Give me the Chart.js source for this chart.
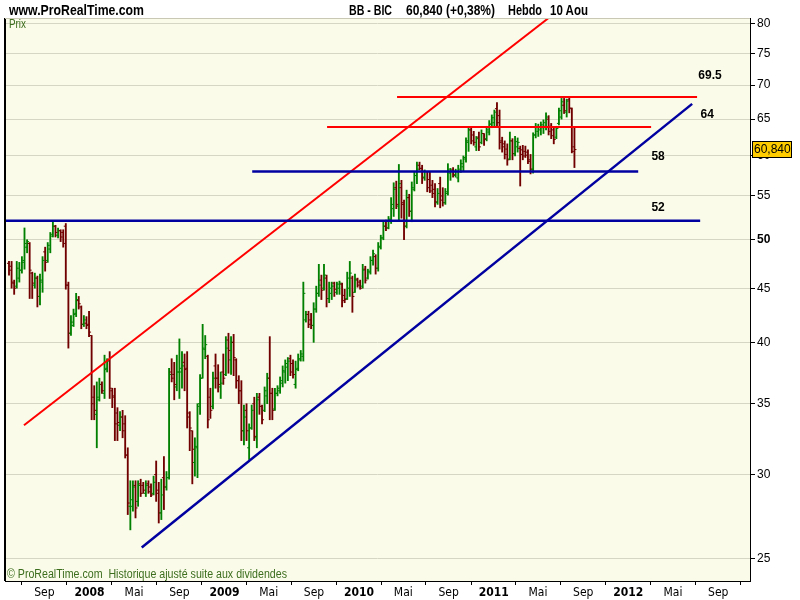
<!DOCTYPE html>
<html>
<head>
<meta charset="utf-8">
<script src="https://cdn.jsdelivr.net/npm/chart.js@4.4.0/dist/chart.umd.min.js"></script>
<style>
  html, body { margin: 0; padding: 0; background: #fff; }
  #wrap { position: relative; width: 800px; height: 600px; }
  #chart { position: absolute; left: 0; top: 0; }
  .hdr { position: absolute; top: 1px; font: bold 15px "Liberation Sans", Arial, sans-serif; color: #000; white-space: pre; transform-origin: 0 0; }
</style>
</head>
<body>
<div id="wrap">
  <canvas id="chart" width="800" height="600"></canvas>
  <div class="hdr" style="left:9px" data-w="135">www.ProRealTime.com</div>
  <div class="hdr" style="left:349px" data-w="43">BB - BIC</div>
  <div class="hdr" style="left:406px" data-w="89">60,840 (+0,38%)</div>
  <div class="hdr" style="left:508px" data-w="34">Hebdo</div>
  <div class="hdr" style="left:550px" data-w="38">10 Aou</div>
</div>
<script>
// weekly bars, first bar = week of 28 May 2007, last = week of 8 Aug 2011
const firstWeek = '2007-05-28';

const opens = [
  47.5, 47.2, 45.5, 45.2, 46.0, 46.8, 47.8, 49.2, 49.6, 46.5,
  45.3, 46.0, 44.2, 45.6, 48.7, 47.8, 49.0, 50.6, 51.5, 50.5,
  51.0, 50.8, 51.5, 45.3, 40.8, 41.5, 42.6, 43.8, 43.2, 41.6,
  41.7, 41.6, 40.6, 35.5, 34.2, 35.3, 36.5, 35.8, 37.8, 38.5,
  36.0, 35.6, 34.3, 33.4, 34.0, 33.5, 31.3, 28.0, 28.0, 29.3,
  28.3, 29.4, 29.3, 28.8, 29.4, 29.2, 28.8, 30.0, 29.0, 27.6,
  29.8, 29.2, 29.8, 37.5, 37.3, 36.3, 37.5, 37.5, 38.3, 37.8,
  34.0, 33.0, 30.8, 31.8, 35.0, 37.0, 39.4, 38.8, 35.5, 34.8,
  38.0, 37.0, 36.3, 37.5, 37.3, 40.2, 38.5, 40.0, 38.5, 36.8,
  36.0, 33.0, 34.5, 31.8, 33.2, 35.0, 32.5, 35.5, 34.8, 34.5,
  35.6, 37.0, 35.8, 34.6, 35.8, 36.0, 36.6, 37.5, 37.9, 38.6,
  38.2, 36.5, 37.8, 38.5, 38.8, 42.0, 42.5, 42.0, 41.5, 43.0,
  44.5, 45.8, 45.0, 46.0, 44.0, 44.5, 45.5, 44.6, 45.0, 45.4,
  44.3, 44.0, 45.0, 46.0, 44.6, 45.9, 45.6, 45.2, 46.9, 46.0,
  46.6, 47.8, 48.2, 47.0, 49.2, 50.2, 51.5, 51.3, 52.2, 53.5,
  56.0, 53.8, 56.0, 54.0, 51.5, 54.8, 53.2, 55.8, 57.5, 58.8,
  58.4, 57.3, 58.0, 57.0, 56.3, 55.8, 54.2, 56.5, 55.0, 54.2,
  55.3, 57.8, 58.2, 57.5, 57.2, 58.0, 58.6, 59.6, 61.8, 63.5,
  62.8, 61.2, 62.5, 61.8, 63.0, 62.3, 63.2, 64.3, 64.5, 66.5,
  65.5, 62.0, 61.6, 60.9, 59.6, 62.0, 60.3, 61.2, 61.0, 60.8,
  60.6, 60.5, 59.5, 58.3, 62.8, 63.3, 63.5, 63.8, 64.0, 65.0,
  64.0, 63.5, 62.5, 64.4, 65.3, 67.0, 66.0, 67.8, 66.5, 61.2
];
const highs = [
  47.7, 47.7, 45.8, 47.7, 47.6, 48.2, 51.3, 50.0, 49.7, 46.6,
  46.5, 46.2, 46.4, 48.2, 49.2, 49.7, 50.8, 52.0, 51.6, 51.3,
  51.1, 51.1, 51.8, 45.6, 42.4, 43.0, 44.5, 44.2, 43.3, 42.4,
  42.3, 42.8, 40.6, 36.4, 36.7, 37.0, 36.7, 38.9, 38.6, 39.2,
  36.2, 36.2, 34.7, 34.4, 34.5, 34.1, 31.8, 29.6, 29.6, 29.6,
  29.6, 29.7, 29.5, 29.6, 29.6, 29.4, 29.9, 30.9, 29.5, 29.7,
  31.2, 30.2, 37.8, 38.6, 38.3, 38.9, 40.3, 39.2, 39.0, 39.2,
  34.4, 33.0, 32.5, 35.0, 37.3, 41.6, 40.6, 38.9, 36.2, 37.5,
  39.0, 38.1, 37.5, 39.0, 40.5, 40.8, 40.5, 40.7, 38.6, 37.2,
  36.8, 34.9, 35.0, 33.5, 34.9, 35.5, 35.8, 35.8, 34.9, 36.3,
  37.4, 40.5, 36.2, 36.2, 36.4, 37.1, 38.0, 38.5, 38.7, 38.9,
  38.5, 38.4, 39.0, 39.3, 45.6, 42.8, 42.8, 42.6, 43.6, 45.2,
  47.4, 46.3, 47.4, 46.3, 45.6, 45.6, 45.6, 45.6, 45.7, 45.5,
  44.9, 46.6, 47.7, 46.2, 46.4, 46.0, 45.8, 47.4, 47.2, 46.9,
  48.2, 48.9, 48.4, 49.7, 50.5, 52.0, 52.2, 52.6, 54.8, 56.6,
  56.8, 58.9, 56.9, 54.5, 55.7, 55.2, 56.7, 58.0, 59.2, 59.2,
  58.8, 58.2, 58.0, 57.9, 56.9, 56.5, 55.9, 57.3, 56.0, 55.9,
  59.0, 58.4, 58.5, 58.3, 58.8, 59.5, 60.0, 62.4, 63.8, 63.9,
  63.3, 62.6, 63.2, 63.5, 63.0, 64.0, 64.8, 65.6, 66.3, 67.4,
  66.3, 62.5, 62.0, 61.6, 63.2, 62.3, 62.6, 62.4, 61.3, 61.4,
  61.3, 60.8, 60.2, 63.1, 64.4, 64.3, 64.6, 64.9, 65.9, 65.5,
  64.4, 63.9, 64.0, 66.6, 68.0, 68.0, 67.9, 68.2, 66.6, 63.9
];
const lows = [
  46.3, 45.0, 44.4, 45.0, 45.6, 46.5, 46.9, 48.6, 44.0, 44.0,
  45.0, 43.2, 43.4, 44.6, 46.7, 47.6, 48.6, 50.3, 50.3, 50.2,
  49.8, 49.2, 44.9, 39.5, 40.6, 41.4, 42.3, 43.0, 41.2, 41.4,
  41.2, 40.5, 33.8, 33.8, 31.8, 35.2, 35.8, 35.4, 37.5, 35.4,
  34.7, 32.3, 32.3, 33.0, 32.5, 31.1, 27.5, 26.6, 27.7, 27.3,
  28.0, 28.6, 28.8, 28.6, 28.8, 28.6, 28.7, 28.3, 27.0, 27.2,
  27.8, 29.0, 29.7, 36.7, 35.3, 36.0, 35.4, 36.2, 36.0, 33.2,
  31.6, 29.4, 29.9, 29.8, 34.2, 37.0, 38.6, 33.2, 33.9, 34.6,
  36.2, 35.9, 35.4, 36.5, 37.2, 37.4, 37.3, 37.2, 36.2, 35.0,
  32.3, 32.0, 32.3, 31.0, 33.1, 32.3, 31.8, 34.2, 33.5, 34.4,
  35.0, 33.8, 33.8, 34.5, 35.6, 35.8, 36.3, 36.6, 36.8, 37.2,
  37.0, 36.2, 37.6, 38.4, 38.4, 41.8, 41.3, 41.2, 40.0, 42.7,
  44.2, 43.9, 44.8, 43.2, 43.6, 43.9, 44.2, 44.4, 44.4, 43.2,
  43.6, 43.9, 44.2, 42.7, 44.6, 45.1, 44.9, 45.0, 45.5, 45.9,
  46.4, 47.3, 46.4, 46.7, 49.0, 50.0, 51.0, 51.2, 51.8, 52.6,
  53.5, 52.2, 52.4, 50.0, 51.3, 52.6, 52.0, 55.6, 56.5, 58.2,
  56.5, 56.9, 55.5, 55.4, 54.8, 53.7, 54.0, 53.6, 53.8, 54.0,
  55.1, 56.9, 57.3, 57.3, 56.7, 57.9, 58.0, 59.2, 60.6, 61.6,
  61.4, 60.7, 60.7, 61.6, 61.4, 62.0, 62.8, 63.8, 63.9, 63.8,
  60.9, 60.5, 59.6, 58.8, 59.5, 59.5, 60.0, 60.5, 56.2, 59.5,
  59.8, 59.0, 57.7, 57.8, 62.4, 62.6, 62.8, 63.0, 63.5, 62.8,
  62.3, 61.6, 62.3, 64.2, 65.0, 65.8, 65.3, 65.9, 60.4, 58.5
];
const closes = [
  46.8, 45.6, 45.0, 47.0, 46.8, 47.6, 49.6, 49.8, 46.8, 45.5,
  46.0, 44.2, 45.8, 47.8, 47.6, 49.4, 50.4, 51.5, 50.8, 51.0,
  50.3, 49.6, 45.3, 40.8, 41.8, 42.5, 43.9, 43.5, 41.6, 42.0,
  41.5, 40.9, 35.0, 34.5, 35.5, 36.5, 36.0, 37.7, 38.4, 36.2,
  35.5, 33.5, 33.6, 34.0, 33.0, 31.3, 28.2, 28.4, 29.2, 27.9,
  29.3, 28.8, 29.0, 29.3, 28.9, 28.7, 29.5, 28.8, 27.6, 28.7,
  29.2, 29.8, 37.3, 37.0, 36.5, 37.5, 37.8, 38.0, 37.7, 34.3,
  33.2, 31.7, 31.9, 34.8, 37.0, 39.5, 39.8, 33.8, 34.5, 37.0,
  37.0, 36.5, 36.6, 37.0, 39.5, 39.3, 40.0, 38.7, 36.8, 36.0,
  33.0, 34.0, 33.0, 33.2, 34.5, 32.6, 35.3, 34.8, 33.8, 36.0,
  37.0, 35.8, 34.5, 35.8, 36.2, 36.8, 37.6, 38.2, 38.4, 37.5,
  37.3, 37.7, 38.6, 39.0, 44.5, 42.5, 41.6, 41.5, 43.0, 44.5,
  45.3, 44.8, 46.3, 44.0, 45.0, 45.2, 44.9, 45.4, 45.5, 43.8,
  43.9, 46.0, 46.5, 44.2, 45.8, 45.3, 45.0, 46.8, 45.8, 46.7,
  47.8, 48.5, 47.0, 49.3, 50.2, 51.5, 51.3, 52.3, 54.0, 55.8,
  54.0, 56.5, 54.2, 51.5, 54.8, 53.2, 56.0, 57.5, 58.3, 58.4,
  57.2, 58.0, 56.0, 55.6, 55.3, 54.3, 55.3, 54.5, 54.2, 55.5,
  58.3, 58.0, 57.6, 58.0, 58.3, 59.0, 59.8, 62.0, 63.5, 62.0,
  61.8, 62.3, 61.2, 63.0, 62.2, 63.5, 64.3, 65.2, 66.0, 64.5,
  61.8, 61.2, 60.2, 59.5, 62.0, 60.3, 61.9, 61.8, 60.2, 60.0,
  60.1, 59.3, 58.3, 62.8, 63.9, 63.8, 64.2, 64.5, 65.3, 63.3,
  62.7, 62.2, 63.7, 66.2, 67.5, 66.2, 67.6, 66.6, 60.6, 60.84
];

const tickDates = ['2007-09-01', '2008-01-01', '2008-05-01', '2008-09-01', '2009-01-01', '2009-05-01',
  '2009-09-01', '2010-01-01', '2010-05-01', '2010-09-01', '2011-01-01', '2011-05-01', '2011-09-01',
  '2012-01-01', '2012-05-01', '2012-09-01'];
const tickLabels = ['Sep', '2008', 'Mai', 'Sep', '2009', 'Mai', 'Sep', '2010', 'Mai', 'Sep', '2011', 'Mai',
  'Sep', '2012', 'Mai', 'Sep'];
const priceTicks = [25, 30, 35, 40, 45, 50, 55, 60, 65, 70, 75, 80];

// horizontal levels (price, from week, to week)
const levelValues = [68.2, 63.9, 58.0, 52.1];
const levelStart = [150.3, 123.2, 94.2, -1.6];
const levelEnd = [266.5, 248.7, 243.7, 267.7];
const levelLabels = ['69.5', '64', '58', '52'];

// channel lines (week index, price)
const upperWeeks = [5.8, 209.0];
const upperPrices = [33.4, 81.0];
const lowerWeeks = [51.4, 264.6];
const lowerPrices = [25.6, 67.2];

const lastPrice = '60,840';

const GREEN = '#008000';
const RED = '#700000';
const NARROW = '"DejaVu Sans Condensed", "Liberation Sans Narrow", sans-serif';

// squeeze the header texts to the narrow widths of the original
document.querySelectorAll('.hdr').forEach(function (el) {
  let w = el.getBoundingClientRect().width;
  el.style.transform = 'scaleX(' + (Number(el.dataset.w) / w) + ')';
});

function weekOf(d) {
  return (Date.parse(d) - Date.parse(firstWeek)) / (7 * 864e5);
}

function narrowText(ctx, text, x, y, width) {
  let w = ctx.measureText(text).width;
  ctx.save();
  ctx.translate(x, y);
  ctx.scale(width / w, 1);
  ctx.fillText(text, 0, 0);
  ctx.restore();
}

let barColors = closes.map((c, i) => c >= opens[i] ? GREEN : RED);
let tickWeeks = tickDates.map(weekOf);

let datasets = [];

levelValues.forEach(function (v, i) {
  datasets.push({
    type: 'line',
    data: [{ x: levelStart[i], y: v }, { x: levelEnd[i], y: v }],
    borderColor: i < 2 ? '#ff0000' : '#0000a0',
    borderWidth: i < 2 ? 2 : 2.5,
    pointRadius: 0,
    order: 0
  });
});

datasets.push({
  type: 'line',
  data: upperWeeks.map((w, i) => ({ x: w, y: upperPrices[i] })),
  borderColor: '#ff0000', borderWidth: 2, pointRadius: 0, order: 0
});
datasets.push({
  type: 'line',
  data: lowerWeeks.map((w, i) => ({ x: w, y: lowerPrices[i] })),
  borderColor: '#0000a0', borderWidth: 2.5, pointRadius: 0, order: 0
});

// open / close ticks
datasets.push({
  type: 'scatter',
  data: opens.map((o, i) => ({ x: i - 0.4, y: o })),
  pointStyle: 'line', pointRadius: 1, pointBorderWidth: 1,
  pointBorderColor: barColors, pointBackgroundColor: barColors,
  order: 1
});
datasets.push({
  type: 'scatter',
  data: closes.map((c, i) => ({ x: i + 0.4, y: c })),
  pointStyle: 'line', pointRadius: 1, pointBorderWidth: 1,
  pointBorderColor: barColors, pointBackgroundColor: barColors,
  order: 1
});

// high-low range
datasets.push({
  type: 'bar',
  data: lows.map((l, i) => ({ x: i, y: [l, highs[i]] })),
  backgroundColor: barColors,
  borderWidth: 0,
  barThickness: 1.2,
  order: 2
});

const backdrop = {
  id: 'backdrop',
  beforeDraw(chart) {
    const { ctx, chartArea: a } = chart;
    ctx.save();
    ctx.fillStyle = '#ffffff';
    ctx.fillRect(0, 0, chart.width, chart.height);
    ctx.fillStyle = '#fbfbe9';
    ctx.fillRect(a.left, a.top, a.right - a.left, a.bottom - a.top);
    ctx.restore();
  }
};

const notes = {
  id: 'notes',
  afterDraw(chart) {
    const { ctx, chartArea: a } = chart;
    const xs = chart.scales.x, ys = chart.scales.y;
    ctx.save();

    // frame
    ctx.strokeStyle = '#000';
    ctx.lineWidth = 2;
    ctx.beginPath();
    ctx.moveTo(a.left, a.top);
    ctx.lineTo(a.left, a.bottom);
    ctx.stroke();
    ctx.lineWidth = 1;
    ctx.strokeStyle = '#c8c8b4';
    ctx.beginPath();
    ctx.moveTo(a.left, a.top + 0.5);
    ctx.lineTo(a.right, a.top + 0.5);
    ctx.stroke();

    ctx.fillStyle = '#3c6e1e';
    ctx.textBaseline = 'middle';
    ctx.font = '12px "Liberation Sans", Arial, sans-serif';
    narrowText(ctx, 'Prix', a.left + 4, a.top + 7, 17);
    narrowText(ctx, '\u00a9 ProRealTime.com  Historique ajust\u00e9 suite aux dividendes', a.left + 2, a.bottom - 6, 280);

    // level labels
    const spots = [[271.5, -21], [270.4, -12], [251.4, -15], [251.4, -13]];
    ctx.fillStyle = '#000';
    ctx.font = 'bold 12px "Liberation Sans", Arial, sans-serif';
    ctx.textAlign = 'center';
    levelLabels.forEach(function (t, i) {
      ctx.fillText(t, xs.getPixelForValue(spots[i][0]), ys.getPixelForValue(levelValues[i]) + spots[i][1]);
    });

    // last price badge
    let py = Math.round(ys.getPixelForValue(closes[closes.length - 1]));
    ctx.fillStyle = '#ffcc00';
    ctx.fillRect(752.5, py - 8.5, 39, 16);
    ctx.strokeStyle = '#000';
    ctx.strokeRect(752.5, py - 8.5, 39, 16);
    ctx.fillStyle = '#000';
    ctx.textAlign = 'left';
    ctx.font = '12px "Liberation Sans", Arial, sans-serif';
    ctx.fillText(lastPrice, 754, py);
    ctx.restore();
  }
};

new Chart(document.getElementById('chart'), {
  type: 'bar',
  data: { datasets: datasets },
  plugins: [backdrop, notes],
  options: {
    responsive: false,
    animation: false,
    events: [],
    layout: { padding: { left: 3, top: 18, right: 0, bottom: 0 } },
    plugins: { legend: { display: false }, tooltip: { enabled: false } },
    scales: {
      x: {
        type: 'linear',
        offset: false,
        min: -1.55,
        max: 287,
        afterBuildTicks: function (scale) {
          scale.ticks = tickWeeks.map(w => ({ value: w }));
        },
        afterFit: function (scale) { scale.height = 19; },
        grid: { drawOnChartArea: false, tickLength: 4, tickColor: '#000' },
        border: { display: true, color: '#000' },
        ticks: {
          autoSkip: false,
          maxRotation: 0,
          padding: 1,
          color: '#000',
          font: function (c) {
            let lbl = tickLabels[c.index] || '';
            return { family: NARROW, size: 12, weight: /^\d/.test(lbl) ? 'bold' : 'normal' };
          },
          callback: function (v, i) { return tickLabels[i]; }
        }
      },
      y: {
        type: 'logarithmic',
        position: 'right',
        min: 23.8,
        max: 81,
        afterBuildTicks: function (scale) {
          scale.ticks = priceTicks.map(v => ({ value: v }));
        },
        afterFit: function (scale) { scale.width = 50; },
        grid: { color: '#d6d6c4', lineWidth: 1, tickLength: 5, tickColor: '#000' },
        border: { display: true, color: '#000' },
        ticks: {
          padding: 2,
          color: '#000',
          font: function (c) {
            return { family: '"Liberation Sans", Arial, sans-serif', size: 12, weight: c.tick && c.tick.value === 50 ? 'bold' : 'normal' };
          },
          callback: function (v) { return String(v); }
        }
      }
    }
  }
});
</script>
</body>
</html>
